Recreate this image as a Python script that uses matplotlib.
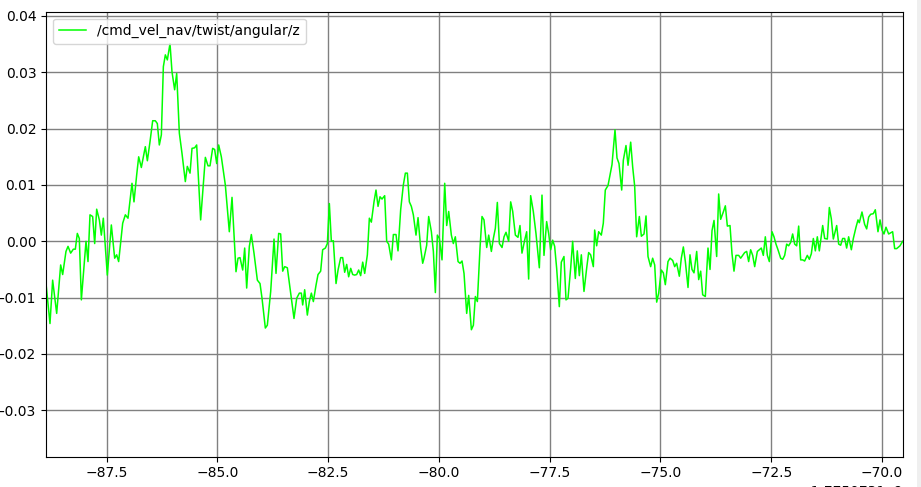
import matplotlib
matplotlib.use("Agg")
import matplotlib.pyplot as plt
from matplotlib.ticker import ScalarFormatter, MultipleLocator
from matplotlib.patches import Rectangle
import numpy as np

T0 = 1775073100.0
series_label = "/cmd_vel_nav/twist/angular/z"

t_rel = [
    -88.870, -88.780, -88.720, -88.629, -88.539, -88.494, -88.419, -88.373, -88.313, -88.253,
    -88.208, -88.163, -88.118, -88.072, -87.967, -87.922, -87.877, -87.817, -87.771, -87.726,
    -87.666, -87.621, -87.576, -87.486, -87.395, -87.320, -87.275, -87.230, -87.139, -87.079,
    -87.019, -86.929, -86.884, -86.823, -86.778, -86.718,
    -86.628, -86.582, -86.522, -86.462, -86.402, -86.357, -86.312, -86.266, -86.221, -86.176,
    -86.131, -86.071, -86.026, -85.966, -85.920, -85.860, -85.800, -85.725, -85.680, -85.619,
    -85.574, -85.514, -85.469, -85.379, -85.273, -85.213, -85.168, -85.108, -85.063, -85.017,
    -84.972, -84.912, -84.822, -84.732, -84.671, -84.581,
    -84.536, -84.491, -84.430, -84.385, -84.340, -84.280, -84.235, -84.175, -84.099, -84.039,
    -83.994, -83.919, -83.874, -83.798, -83.723, -83.678, -83.618, -83.573, -83.527, -83.482,
    -83.422, -83.362, -83.272, -83.211, -83.151, -83.106, -83.076, -83.031, -82.971, -82.926,
    -82.880, -82.835, -82.775, -82.730, -82.670, -82.625, -82.564, -82.519, -82.474,
    -82.429, -82.384, -82.323, -82.278, -82.218, -82.173, -82.128, -82.083, -82.038, -81.992,
    -81.947, -81.902, -81.857, -81.812, -81.767, -81.721, -81.676, -81.616, -81.571, -81.526,
    -81.466, -81.421, -81.375, -81.330, -81.285, -81.225, -81.180, -81.135, -81.074, -81.029,
    -80.969, -80.924, -80.864, -80.804, -80.758, -80.713, -80.668, -80.623, -80.578, -80.518,
    -80.472, -80.412, -80.367,
    -80.337, -80.277, -80.232, -80.171, -80.126, -80.081, -80.036, -79.991, -79.931, -79.870,
    -79.825, -79.780, -79.720, -79.675, -79.630, -79.569, -79.524, -79.479, -79.434, -79.374,
    -79.329, -79.268, -79.223, -79.178, -79.133, -79.073, -79.028, -78.983, -78.922, -78.877,
    -78.817, -78.772, -78.727, -78.682, -78.636, -78.576, -78.531, -78.486, -78.426, -78.381,
    -78.335, -78.275,
    -78.216, -78.171, -78.126, -78.065, -78.020, -77.975, -77.930, -77.870, -77.810, -77.734,
    -77.674, -77.629, -77.569, -77.524, -77.478, -77.433, -77.388, -77.343, -77.283, -77.238,
    -77.178, -77.132, -77.087, -77.027, -76.982, -76.922, -76.877, -76.831, -76.786, -76.726,
    -76.666, -76.621, -76.576, -76.515, -76.485, -76.440, -76.395, -76.335, -76.290, -76.245,
    -76.184, -76.094, -76.026, -75.981, -75.936,
    -75.875, -75.838, -75.778, -75.732, -75.672, -75.627, -75.582, -75.537, -75.477, -75.431,
    -75.371, -75.326, -75.281, -75.221, -75.176, -75.130, -75.085, -75.040, -74.980, -74.935,
    -74.890, -74.830, -74.784, -74.724, -74.679, -74.634, -74.574, -74.529, -74.483, -74.438,
    -74.378, -74.333, -74.288, -74.243, -74.182, -74.137, -74.092, -74.047, -73.987, -73.927,
    -73.881, -73.836, -73.791, -73.731, -73.686, -73.641, -73.581, -73.535, -73.490, -73.430,
    -73.385, -73.340, -73.295, -73.234, -73.189, -73.144, -73.099, -73.054, -73.009, -72.964,
    -72.918, -72.873, -72.813, -72.768, -72.723, -72.678, -72.633, -72.587, -72.542, -72.482,
    -72.437, -72.392, -72.347, -72.286, -72.241, -72.196, -72.151, -72.106, -72.061, -72.016,
    -71.970, -71.925, -71.880, -71.835, -71.790, -71.745, -71.685, -71.639, -71.594, -71.549,
    -71.504, -71.459, -71.414, -71.338, -71.293, -71.233, -71.188, -71.143, -71.098, -71.022,
    -70.977, -70.932, -70.887, -70.842, -70.797, -70.752, -70.691, -70.646, -70.586, -70.541,
    -70.511, -70.451, -70.391, -70.345, -70.300, -70.255, -70.195, -70.150, -70.090, -70.044,
    -69.999, -69.954, -69.909, -69.849, -69.804, -69.759, -69.713, -69.668, -69.593, -69.533,
]

ang_z = [
    -0.0075, -0.0146, -0.0069, -0.0128, -0.0042, -0.0059, -0.0018, -0.0009, -0.0021, -0.0014,
    -0.0014, 0.0014, 0.0005, -0.0104, 0.0000, -0.0036, 0.0047, 0.0044, -0.0004, 0.0057,
    0.0038, 0.0011, 0.0041, -0.0060, 0.0029, -0.0030, -0.0024, -0.0036, 0.0032, 0.0047,
    0.0041, 0.0103, 0.0070, 0.0118, 0.0150, 0.0131,
    0.0168, 0.0143, 0.0177, 0.0214, 0.0214, 0.0209, 0.0171, 0.0189, 0.0310, 0.0331,
    0.0322, 0.0351, 0.0301, 0.0269, 0.0298, 0.0192, 0.0156, 0.0106, 0.0133, 0.0121,
    0.0165, 0.0166, 0.0171, 0.0038, 0.0149, 0.0134, 0.0134, 0.0165, 0.0163, 0.0138,
    0.0171, 0.0150, 0.0100, 0.0017, 0.0078, -0.0054,
    -0.0030, -0.0029, -0.0051, -0.0012, -0.0083, -0.0009, 0.0012, -0.0021, -0.0069, -0.0075,
    -0.0101, -0.0154, -0.0149, -0.0089, 0.0004, -0.0057, 0.0014, 0.0013, -0.0053, -0.0045,
    -0.0047, -0.0083, -0.0137, -0.0101, -0.0092, -0.0092, -0.0113, -0.0086, -0.0131, -0.0107,
    -0.0092, -0.0107, -0.0078, -0.0059, -0.0053, -0.0015, -0.0012, -0.0004, 0.0067,
    0.0000, 0.0001, -0.0075, -0.0051, -0.0029, -0.0029, -0.0055, -0.0041, -0.0063, -0.0048,
    -0.0059, -0.0060, -0.0059, -0.0051, -0.0061, -0.0037, -0.0057, -0.0024, 0.0041, 0.0034,
    0.0070, 0.0091, 0.0062, 0.0079, 0.0075, 0.0081, 0.0000, -0.0005, -0.0033, 0.0012,
    0.0012, -0.0017, 0.0056, 0.0100, 0.0121, 0.0121, 0.0070, 0.0062, 0.0047, 0.0011,
    0.0042, -0.0012, -0.0039,
    -0.0030, -0.0007, 0.0044, 0.0017, -0.0018, -0.0091, 0.0011, 0.0005, -0.0033, 0.0103,
    0.0028, 0.0053, 0.0011, -0.0004, 0.0008, -0.0036, -0.0039, -0.0035, -0.0057, -0.0128,
    -0.0096, -0.0157, -0.0149, -0.0098, -0.0107, -0.0012, 0.0044, 0.0038, -0.0011, 0.0011,
    -0.0018, 0.0005, 0.0023, 0.0069, -0.0004, -0.0011, 0.0008, 0.0016, 0.0000, 0.0070,
    0.0053, 0.0011,
    0.0007, 0.0028, -0.0021, 0.0002, 0.0017, -0.0067, 0.0081, 0.0053, 0.0014, -0.0047,
    0.0082, -0.0025, 0.0035, 0.0014, -0.0015, 0.0002, -0.0009, -0.0048, -0.0116, -0.0037,
    -0.0027, -0.0104, -0.0101, -0.0048, 0.0000, -0.0066, -0.0017, -0.0061, -0.0024, -0.0089,
    -0.0048, -0.0020, -0.0024, -0.0045, 0.0020, -0.0008, 0.0017, 0.0011, 0.0032, 0.0091,
    0.0099, 0.0136, 0.0198, 0.0148, 0.0138,
    0.0091, 0.0144, 0.0170, 0.0135, 0.0176, 0.0132, 0.0098, 0.0008, 0.0044, 0.0009,
    0.0013, 0.0045, -0.0027, -0.0045, -0.0030, -0.0042, -0.0108, -0.0092, -0.0051, -0.0056,
    -0.0077, -0.0036, -0.0030, -0.0034, -0.0045, -0.0039, -0.0062, -0.0030, -0.0010, -0.0036,
    -0.0082, -0.0024, -0.0050, -0.0056, -0.0018, -0.0068, -0.0053, -0.0095, -0.0098, -0.0012,
    -0.0050, 0.0019, 0.0037, -0.0027, 0.0084, 0.0039, 0.0052, 0.0063, 0.0027, 0.0028,
    -0.0022, -0.0053, -0.0025, -0.0025, -0.0030, -0.0025, -0.0020, -0.0018, -0.0036, -0.0015,
    -0.0025, -0.0045, -0.0018, -0.0015, -0.0012, -0.0025, 0.0008, -0.0025, -0.0036, 0.0017,
    0.0008, -0.0005, -0.0015, -0.0030, -0.0032, -0.0025, -0.0005, -0.0008, -0.0002, 0.0013,
    -0.0005, -0.0008, 0.0027, -0.0033, -0.0033, -0.0035, -0.0025, -0.0032, -0.0022, 0.0005,
    -0.0017, 0.0008, -0.0017, 0.0028, 0.0005, 0.0004, 0.0060, 0.0040, 0.0004, 0.0028,
    -0.0005, -0.0007, 0.0005, 0.0005, -0.0012, 0.0008, -0.0015, 0.0005, 0.0025, 0.0038,
    0.0033, 0.0052, 0.0030, 0.0022, 0.0043, 0.0048, 0.0049, 0.0056, 0.0017, 0.0038,
    0.0020, 0.0013, 0.0025, 0.0013, 0.0015, 0.0017, -0.0013, -0.0013, -0.0008, 0.0000,
]

x_min_rel, x_max_rel = -88.870, -69.525
y_min, y_max = -0.03824, 0.04076

FS = 10
fig = plt.figure(figsize=(9.21, 4.87), dpi=100, facecolor="white")
fig.patches.append(Rectangle((917 / 921, 0), 4 / 921, 1, transform=fig.transFigure,
                             facecolor="#efefef", edgecolor="none", zorder=-1))
ax = fig.add_axes([46 / 921, 30.3 / 487, 857 / 921, 445 / 487])

t_abs = T0 + np.array(t_rel)
ax.plot(t_abs, ang_z, color="#00ff00", lw=1.1, label=series_label)

ax.set_xlim(T0 + x_min_rel, T0 + x_max_rel)
ax.set_ylim(y_min, y_max)
ax.xaxis.set_major_locator(MultipleLocator(2.5))
ax.yaxis.set_major_locator(MultipleLocator(0.01))
fmt = ScalarFormatter(useOffset=T0)
ax.xaxis.set_major_formatter(fmt)
ax.tick_params(labelsize=FS)
ax.xaxis.get_offset_text().set_fontsize(FS)
ax.grid(True, color="#808080", lw=1.0)
ax.set_axisbelow(True)
ax.legend(loc="upper left", fontsize=FS, handlelength=2.0, borderaxespad=0.5)

fig.savefig("out.png", dpi=100)
